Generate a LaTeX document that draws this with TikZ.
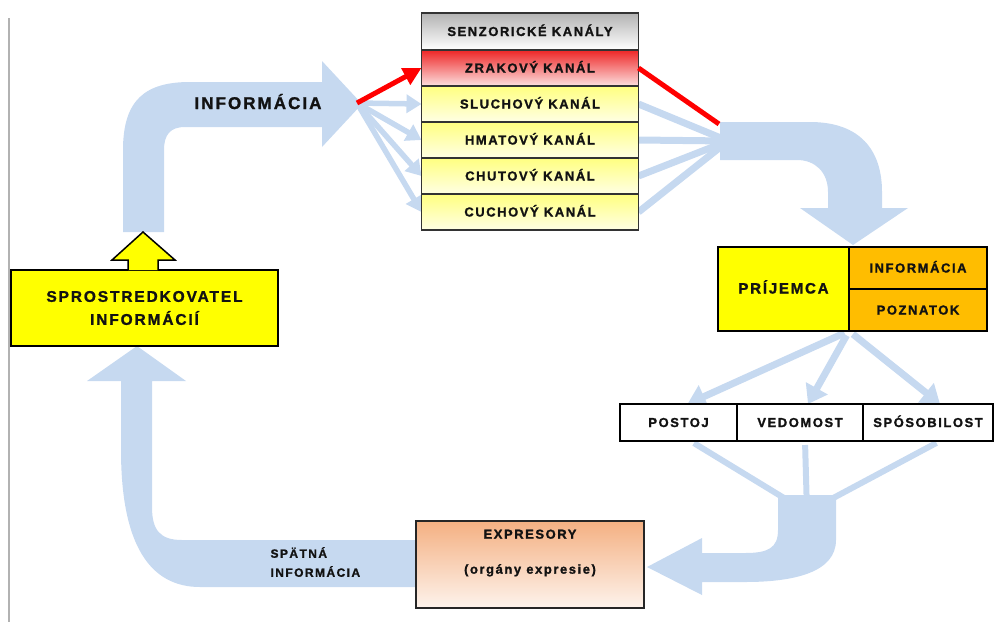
\documentclass[tikz,border=0pt]{standalone}
\usepackage{fontspec}
\setmainfont{Liberation Sans}
\newfontfamily\lblfont[LetterSpace=12, FakeBold=1.3]{Liberation Sans Bold}
\usepackage{tikz}
\usetikzlibrary{positioning,
  backgrounds,
  arrows.meta
}
\definecolor{infblue}{RGB}{198,217,240}
\definecolor{boxyellow}{RGB}{255,255,0}
\definecolor{boxorange}{RGB}{255,189,0}
\definecolor{rowyellow}{RGB}{255,255,128}
\definecolor{rowpale}{RGB}{255,255,228}
\definecolor{zrakred}{RGB}{238,38,38}
\definecolor{zrakpale}{RGB}{252,224,224}
\definecolor{peach}{RGB}{244,176,130}
\definecolor{peachpale}{RGB}{253,243,236}
\definecolor{txt}{RGB}{18,18,18}
\newcommand\lblsize[1]{\lblfont\fontsize{#1}{#1}\selectfont}

\begin{document}
\begin{tikzpicture}[x=1pt, y=-1pt,
  chanrow/.style={draw=black!80, line width=1.5pt, minimum width=217pt, minimum height=36pt,
    inner sep=0pt, outer sep=0pt, text height=9pt, text depth=0pt, font=\lblsize{13}, text=txt},
  yrow/.style={chanrow, top color=rowyellow, bottom color=rowpale},
  recv/.style={draw=black, line width=2pt, inner sep=0pt, outer sep=0pt,
    text height=9pt, text depth=0pt, text=txt},
  outbox/.style={draw=black, line width=1.5pt, fill=white, minimum height=37pt, inner sep=0pt,
    outer sep=0pt, text height=9pt, text depth=0pt, font=\lblsize{13}, text=txt},
  feedline/.style={infblue, line width=6pt},
  fanarrow/.style={infblue, line width=5.5pt, -{Triangle[width=18pt,length=15pt]}},
  downarrow/.style={infblue, line width=7pt, -{Triangle[width=24pt,length=18pt]}, shorten <=5pt},
  redline/.style={red, line width=5pt}]

  \useasboundingbox (0,0) rectangle (995,622);
  \draw[black!30, line width=1.5pt] (9,18) -- (9,622);

  \node[chanrow, minimum height=37pt, top color=black!30, bottom color=white] (senz) at (530,31.5) {SENZORICKÉ KANÁLY};
  \node[chanrow, top color=zrakred, bottom color=zrakpale, below=0pt of senz] (zrak) {ZRAKOVÝ KANÁL};
  \node[yrow, below=0pt of zrak]  (sluch) {SLUCHOVÝ KANÁL};
  \node[yrow, below=0pt of sluch] (hmat)  {HMATOVÝ KANÁL};
  \node[yrow, below=0pt of hmat]  (chut)  {CHUTOVÝ KANÁL};
  \node[yrow, below=0pt of chut]  (cuch)  {CUCHOVÝ KANÁL};

  \node[draw=black, line width=2pt, fill=boxyellow, minimum width=267pt, minimum height=76pt,
    align=center, font=\lblsize{15.5}, text=txt] (sprost) at (144.5,308) {SPROSTREDKOVATEL\\[7.5pt]INFORMÁCIÍ};
  \draw[black, line width=1.5pt, fill=boxyellow]
    (128,270) -- (128,260) -- (112,260) -- (143,232) -- (175,260) -- (158,260) -- (158,270);

  \node[text=txt, inner sep=0pt, text height=12pt, text depth=0pt, font=\lblsize{17}] (infolbl) at (258,103) {INFORMÁCIA};

  \node[recv, fill=boxyellow, minimum width=131pt, minimum height=84pt, font=\lblsize{15}] (prij) at (783.5,289) {PRÍJEMCA};
  \node[recv, fill=boxorange, minimum width=138pt, minimum height=42pt, anchor=north west,
    font=\lblsize{13}] (inf) at (prij.north east) {INFORMÁCIA};
  \node[recv, fill=boxorange, minimum width=138pt, minimum height=42pt, below=0pt of inf,
    font=\lblsize{13}] (pozn) {POZNATOK};

  \node[outbox, minimum width=117pt] (post) at (678.5,422.5) {POSTOJ};
  \node[outbox, minimum width=126pt, right=0pt of post] (vedom) {VEDOMOST};
  \node[outbox, minimum width=130pt, right=0pt of vedom] (sposob) {SPÓSOBILOST};

  \node[draw=black!85, line width=1.5pt, top color=peach, bottom color=peachpale,
    minimum width=228pt, minimum height=87pt, outer sep=0pt] (expr) at (530,564.5) {};
  \node[align=center, font=\lblsize{13}, text=txt] (exprtxt) at (530,553) {EXPRESORY\\[22pt](orgány expresie)};

  \node[align=left, anchor=west, font=\lblsize{12}, text=txt] (spat) at (267,562) {SPÄTNÁ\\[7pt]INFORMÁCIA};

  \begin{scope}[on background layer]
    \fill[infblue] (123,232) -- (123,150) .. controls (123,100) and (145,82) .. (190,82) -- (322,82)
      -- (322,61) -- (362,104) -- (322,147) -- (322,127) -- (185,127)
      .. controls (170,127) and (164,135) .. (164,150) -- (164,232) -- cycle;

    \coordinate (fan) at (357,103);
    \path[fanarrow]
      (fan) edge (sluch.west)
      (fan) edge (hmat.west)
      (fan) edge (chut.west)
      (fan) edge (cuch.west);

    \coordinate (conv) at (728,141);
    \path[feedline, line width=7pt]
      (sluch.east) edge (conv)
      (hmat.east)  edge (conv)
      (chut.east)  edge (conv)
      (cuch.east)  edge (conv);

    \fill[infblue] (720,122) -- (810,122) .. controls (860,122) and (882,150) .. (882,192) -- (882,208)
      -- (908,208) -- (853,245) -- (800,208) -- (828,208) -- (828,192)
      .. controls (828,172) and (815,160) .. (797,160) -- (720,160) -- cycle;

    \path[downarrow]
      (prij.south east) edge ([xshift=9pt]post.north)
      (prij.south east) edge ([xshift=8pt]vedom.north)
      (prij.south east) edge ([xshift=12pt]sposob.north);

    \coordinate (merge) at (807,512);
    \path[feedline, shorten <=4pt]
      ([xshift=12pt]post.south) edge (merge)
      ([xshift=5pt]vedom.south) edge (merge)
      ([xshift=12pt]sposob.south) edge (merge);

    \fill[infblue] (778,495) -- (836,495) -- (836,540) .. controls (836,572) and (795,582) .. (745,582)
      -- (702,582) -- (702,595) -- (647,567) -- (702,538) -- (702,553) -- (745,553)
      .. controls (768,553) and (778,548) .. (778,530) -- cycle;

    \fill[infblue] (417,540) -- (182,540) .. controls (160,540) and (152,530) .. (152,507) -- (152,381)
      -- (186,381) -- (137,346) -- (87,381) -- (121,381) -- (121,450)
      .. controls (121,545) and (150,587) .. (200,587) -- (417,587) -- cycle;
  \end{scope}

  \draw[redline, -{Triangle[width=18pt,length=18pt]}] (fan) -- (zrak.west);
  \coordinate (convtop) at (719,124);
  \draw[redline] (zrak.east) -- (convtop);

\end{tikzpicture}
\end{document}
